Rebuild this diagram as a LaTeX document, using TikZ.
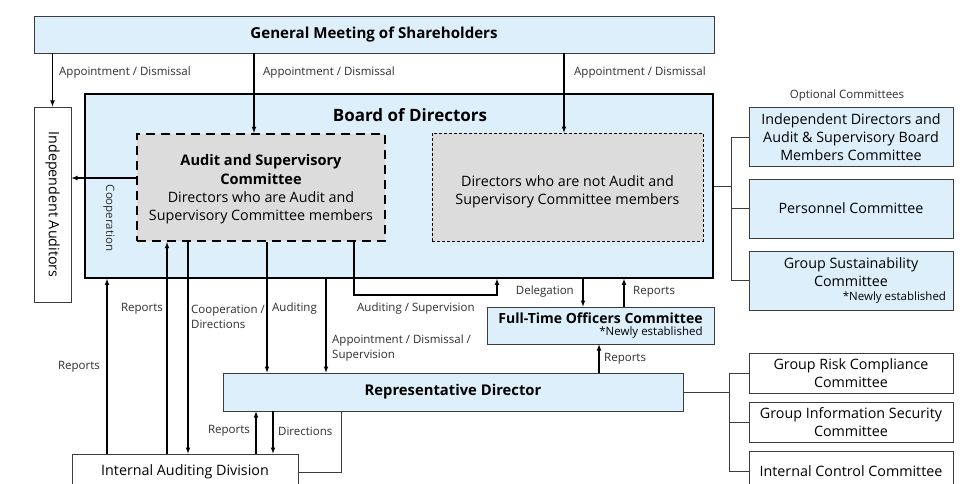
\documentclass[tikz,border=0pt]{standalone}
\usepackage{fontspec}
\setmainfont{Open Sans}
\usetikzlibrary{positioning}
\tikzset{>=latex}

\definecolor{boxblue}{RGB}{221,239,250}
\definecolor{boxgray}{RGB}{220,220,220}
\definecolor{edgegray}{RGB}{60,60,60}
\definecolor{txtgray}{RGB}{45,45,45}

\tikzset{
  blubox/.style={draw=edgegray,fill=boxblue,line width=0.8pt,inner sep=0pt,align=center,text=black},
  whtbox/.style={draw=edgegray,fill=white,line width=0.8pt,inner sep=0pt,align=center,text=black},
  flow/.style={->,line width=1.1pt,black},
  link/.style={line width=0.8pt,edgegray},
  lbl/.style={font=\fontsize{11.5}{15}\selectfont,text=txtgray,inner sep=0pt,align=left},
  boxtxt/.style={font=\fontsize{14.3}{18}\selectfont},
  boxbf/.style={font=\fontsize{14.8}{18}\selectfont\bfseries}
}

\begin{document}
\begin{tikzpicture}[x=1pt,y=-1pt]
\useasboundingbox (0,0) rectangle (963,484);

%%% Shareholders and the board
\node[blubox,boxbf,font=\fontsize{15.1}{18}\selectfont\bfseries,minimum width=680pt,minimum height=37pt] (gms) at (374,34.5) {General Meeting of Shareholders};
\node[whtbox,boxtxt,minimum width=37pt,minimum height=195pt] (ia) at (52.5,204.5) {\rotatebox{-90}{Independent Auditors}};
\node[draw=black,fill=boxblue,line width=1.6pt,minimum width=628pt,minimum height=184pt] (board) at (399,186) {};
\node[font=\fontsize{17}{20}\selectfont\bfseries] (boardtitle) at (410,115) {Board of Directors};

%%% Committees inside the board
\node[draw=black,fill=boxgray,line width=2.2pt,dash pattern=on 9pt off 6pt,minimum width=248pt,minimum height=107pt] (aud) at (261,187.5) {};
\node[align=center,inner sep=0pt,font=\fontsize{14.3}{18.4}\selectfont] (audtxt) at (261,189.5)
  {\bfseries\fontsize{14.6}{18.4}\selectfont Audit and Supervisory\\\bfseries\fontsize{14.6}{18.4}\selectfont Committee\\Directors who are Audit and\\Supervisory Committee members};
\node[draw=black,fill=boxgray,line width=0.7pt,dash pattern=on 3pt off 2pt,minimum width=271pt,minimum height=108pt] (ndir) at (567.5,187) {};
\node[align=center,inner sep=0pt,boxtxt] (ndirtxt) at (567.5,191.5) {Directors who are not Audit and\\Supervisory Committee members};
\node[lbl] (coop) at (109,218) {\rotatebox{-90}{Cooperation}};

%%% Optional committees
\node[lbl] (optional) at (847,96) {Optional Committees};
\node[blubox,boxtxt,minimum width=204pt,minimum height=59pt] (ids) at (851,137) {Independent Directors and\\Audit \& Supervisory Board\\Members Committee};
\node[blubox,boxtxt,minimum width=204pt,minimum height=59pt] (pers) at (851,208.5) {Personnel Committee};
\node[blubox,boxtxt,minimum width=204pt,minimum height=59pt] (gsus) at (851,280.5) {Group Sustainability\\Committee\\[-3.5pt]\makebox[190pt][r]{\fontsize{11.5}{14}\selectfont *Newly established}};

%%% Execution side
\node[blubox,minimum width=227pt,minimum height=37pt,align=right] (fto) at (600.5,325.5) {{\fontsize{14}{16}\selectfont\bfseries Full-Time Officers Committee}\\{\fontsize{11.5}{14}\selectfont *Newly established}};
\node[blubox,boxbf,minimum width=460pt,minimum height=38pt] (rep) at (453,392) {Representative Director};
\node[whtbox,boxtxt,minimum width=226pt,minimum height=36pt] (iad) at (185,472) {Internal Auditing Division};

\node[whtbox,boxtxt,minimum width=204pt,minimum height=40pt] (grc) at (851,373) {Group Risk Compliance\\Committee};
\node[whtbox,boxtxt,minimum width=204pt,minimum height=40pt] (gis) at (851,422) {Group Information Security\\Committee};
\node[whtbox,boxtxt,minimum width=204pt,minimum height=40pt] (icc) at (851,471) {Internal Control Committee};

%%% Columns of the connectors
\coordinate (cgmsa) at (254,0);
\coordinate (cgmsb) at (564,0);
\coordinate (crow) at (0,178);
\coordinate (copt) at (731,0);
\coordinate (cmgmt) at (729,0);
\coordinate (ciarep) at (107,0);
\coordinate (ciaaud) at (167,0);
\coordinate (caudia) at (188,0);
\coordinate (caudrep) at (267,0);
\coordinate (cbdrep) at (326,0);
\coordinate (caudsup) at (354,295);
\coordinate (cbdup) at (497,295);
\coordinate (cdeleg) at (583,0);
\coordinate (cftorep) at (624,0);
\coordinate (crepfto) at (599,0);
\coordinate (ciadrep) at (256,0);
\coordinate (crepiad) at (273,0);
\coordinate (clink) at (341,0);

%%% Appointment / dismissal from the shareholders
\draw[flow] (gms.south -| ia.north) -- (ia.north);
\draw[flow] (gms.south -| cgmsa) -- (aud.north -| cgmsa);
\draw[flow] (gms.south -| cgmsb) -- (ndir.north -| cgmsb);
\node[lbl,anchor=west] (lappa) at (59,73) {Appointment / Dismissal};
\node[lbl,anchor=west] (lappb) at (263,73) {Appointment / Dismissal};
\node[lbl,anchor=west] (lappc) at (574,73) {Appointment / Dismissal};

\draw[flow] (aud.west |- crow) -- (ia.east |- crow);

%%% Board and the optional committees
\draw[link] (board.east) -- (board.east -| copt);
\draw[link] (ids.west) -- (ids.west -| copt) -- (gsus.west -| copt) -- (gsus.west);
\draw[link] (pers.west) -- (pers.west -| copt);

%%% Full-time officers
\draw[flow] (board.south -| cdeleg) -- (fto.north -| cdeleg);
\draw[flow] (fto.north -| cftorep) -- (board.south -| cftorep);
\draw[flow] (aud.south -| caudsup) -- (caudsup) -- (cbdup) -- (board.south -| cbdup);
\draw[flow] (rep.north -| crepfto) -- (fto.south -| crepfto);
\node[lbl,anchor=east] (ldeleg) at (574,292) {Delegation};
\node[lbl,anchor=west] (lrepc) at (633,292) {Reports};
\node[lbl,anchor=west] (laudsup) at (357,309) {Auditing / Supervision};
\node[lbl,anchor=west] (lrepd) at (604,359) {Reports};

%%% Internal audit and representative director
\draw[flow] (iad.north -| ciarep) -- (board.south -| ciarep);
\draw[flow] (iad.north -| ciaaud) -- (aud.south -| ciaaud);
\draw[flow] (aud.south -| caudia) -- (iad.north -| caudia);
\draw[flow] (aud.south -| caudrep) -- (rep.north -| caudrep);
\draw[flow] (board.south -| cbdrep) -- (rep.north -| cbdrep);
\draw[flow] (iad.north -| ciadrep) -- (rep.south -| ciadrep);
\draw[flow] (rep.south -| crepiad) -- (iad.north -| crepiad);
\draw[link] (iad.east) -| (rep.south -| clink);
\node[lbl,anchor=east] (lrepa) at (100,367) {Reports};
\node[lbl,anchor=east] (lrepb) at (163,309) {Reports};
\node[lbl,anchor=west] (lcoopdir) at (191,316.5) {Cooperation /\\Directions};
\node[lbl,anchor=west] (laud) at (272,309) {Auditing};
\node[lbl,anchor=west] (lappsup) at (332,348.5) {Appointment / Dismissal /\\Supervision};
\node[lbl,anchor=east] (lrepe) at (250,431) {Reports};
\node[lbl,anchor=west] (ldir) at (278,431) {Directions};

%%% Management committees
\draw[link] (rep.east) -- (rep.east -| cmgmt);
\draw[link] (grc.west) -- (grc.west -| cmgmt) -- (icc.west -| cmgmt) -- (icc.west);
\draw[link] (gis.west) -- (gis.west -| cmgmt);

\end{tikzpicture}
\end{document}
